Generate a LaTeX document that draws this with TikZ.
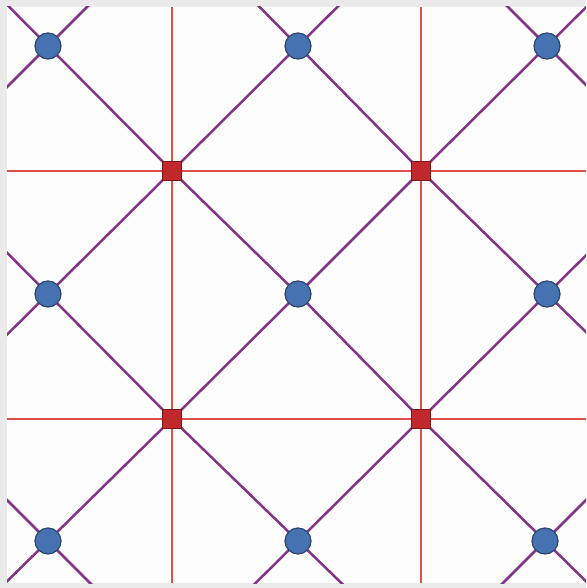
\documentclass[tikz,border=0pt]{standalone}
\usetikzlibrary{calc}
\definecolor{margin}{RGB}{234,234,234}
\definecolor{paper}{RGB}{253,253,253}
\definecolor{redline}{RGB}{224,80,72}
\definecolor{purpleline}{RGB}{132,52,134}
\definecolor{bluefill}{RGB}{70,114,178}
\definecolor{blueedge}{RGB}{44,70,110}
\definecolor{redfill}{RGB}{192,40,44}
\definecolor{rededge}{RGB}{120,24,24}
\tikzset{
  dot/.style={circle,fill=bluefill,draw=blueedge,line width=1.2pt,minimum size=26pt,inner sep=0pt},
  sq/.style={rectangle,fill=redfill,draw=rededge,line width=1.2pt,minimum size=19pt,inner sep=0pt},
  redl/.style={draw=redline,line width=2pt},
  purl/.style={draw=purpleline,line width=2.5pt},
}
\begin{document}
\begin{tikzpicture}[x=1pt,y=-1pt]
\useasboundingbox (0,0) rectangle (586,588);
\fill[margin] (0,0) rectangle (586,588);
\fill[paper] (7,7) rectangle (586,583);
% node positions
\coordinate (c00) at (48,46);   \coordinate (c10) at (298,46);  \coordinate (c20) at (547,46);
\coordinate (c01) at (48,294);  \coordinate (c11) at (298,294); \coordinate (c21) at (547,294);
\coordinate (c02) at (48,541);  \coordinate (c12) at (298,541); \coordinate (c22) at (545,541);
\coordinate (s00) at (172,171); \coordinate (s10) at (421,171);
\coordinate (s01) at (172,419); \coordinate (s11) at (421,419);
% edge coordinates
\coordinate (vt0) at (172,7);  \coordinate (vb0) at (172,583);
\coordinate (vt1) at (421,7);  \coordinate (vb1) at (421,583);
\coordinate (hl0) at (7,171);  \coordinate (hr0) at (586,171);
\coordinate (hl1) at (7,419);  \coordinate (hr1) at (586,419);
\begin{scope}
\clip (7,7) rectangle (586,583);
% red grid lines
\draw[redl] (vt0) -- (s00) -- (s01) -- (vb0);
\draw[redl] (vt1) -- (s10) -- (s11) -- (vb1);
\draw[redl] (hl0) -- (s00) -- (s10) -- (hr0);
\draw[redl] (hl1) -- (s01) -- (s11) -- (hr1);
% purple diagonals, down-right
\draw[purl] ($(c00)!-1!(s00)$) -- (c00) -- (s00) -- (c11) -- (s11) -- (c22) -- ($(c22)!-1!(s11)$);
\draw[purl] ($(c10)!-1!(s10)$) -- (c10) -- (s10) -- (c21) -- ($(c21)!-1!(s10)$);
\draw[purl] ($(c01)!-1!(s01)$) -- (c01) -- (s01) -- (c12) -- ($(c12)!-1!(s01)$);
\draw[purl] ($(c20)+(-140,-140)$) -- (c20) -- ($(c20)+(140,140)$);
\draw[purl] ($(c02)+(-140,-140)$) -- (c02) -- ($(c02)+(140,140)$);
% purple diagonals, down-left
\draw[purl] ($(c20)!-1!(s10)$) -- (c20) -- (s10) -- (c11) -- (s01) -- (c02) -- ($(c02)!-1!(s01)$);
\draw[purl] ($(c10)!-1!(s00)$) -- (c10) -- (s00) -- (c01) -- ($(c01)!-1!(s00)$);
\draw[purl] ($(c21)!-1!(s11)$) -- (c21) -- (s11) -- (c12) -- ($(c12)!-1!(s11)$);
\draw[purl] ($(c00)+(140,-140)$) -- (c00) -- ($(c00)+(-140,140)$);
\draw[purl] ($(c22)+(140,-140)$) -- (c22) -- ($(c22)+(-140,140)$);
\end{scope}
% nodes
\foreach \n in {c00,c10,c20,c01,c11,c21,c02,c12,c22} \node[dot] (n\n) at (\n) {};
\foreach \n in {s00,s10,s01,s11} \node[sq] (n\n) at (\n) {};
\end{tikzpicture}
\end{document}
